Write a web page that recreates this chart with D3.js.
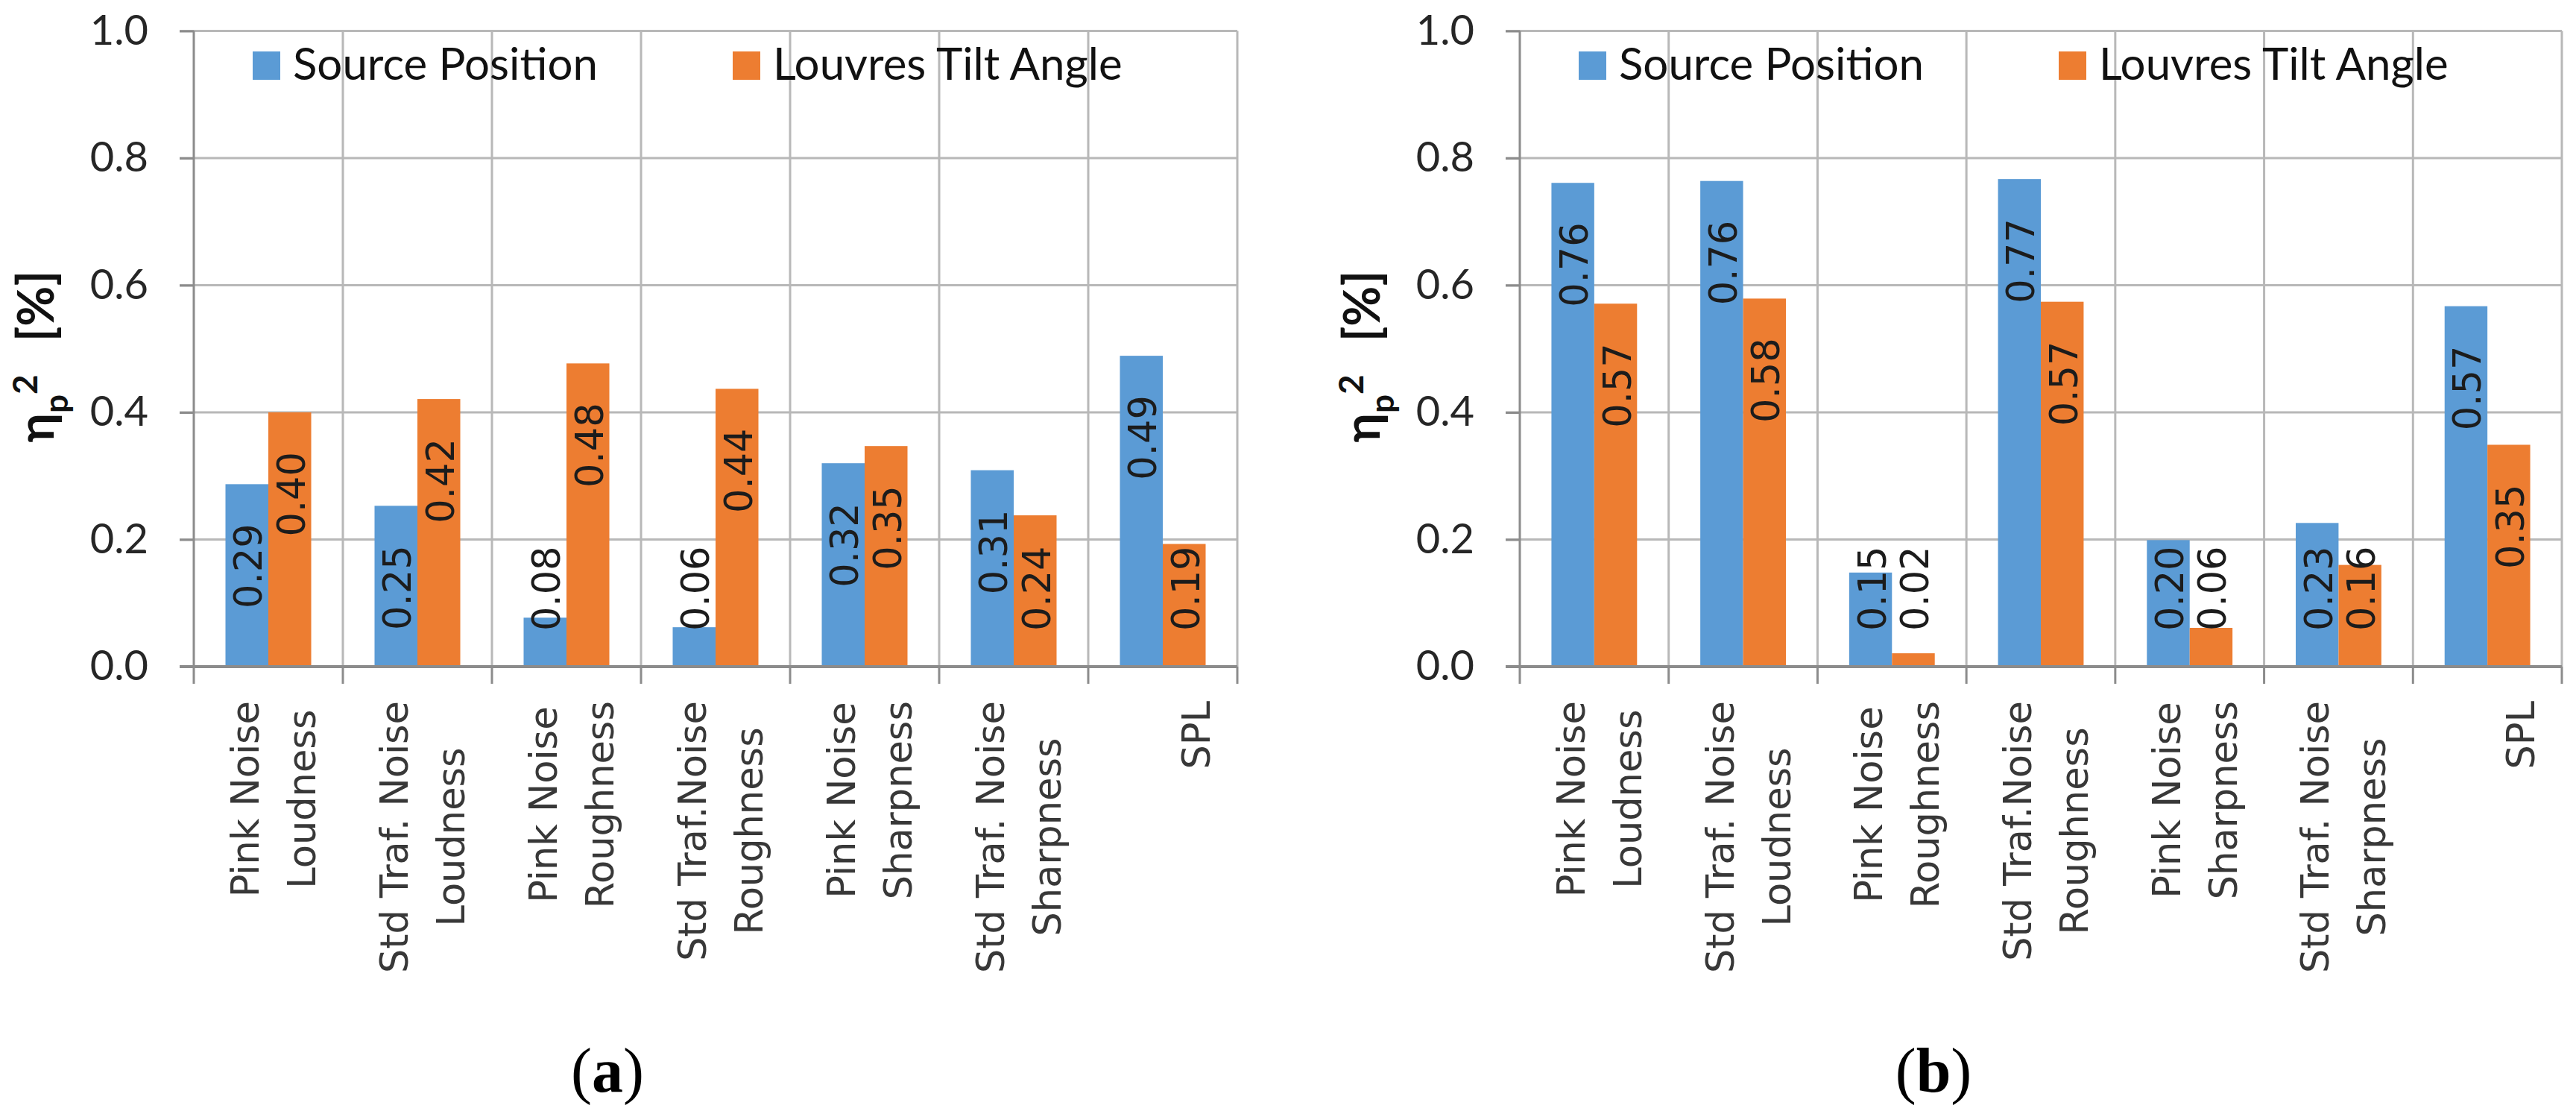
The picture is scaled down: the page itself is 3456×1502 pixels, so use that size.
<!DOCTYPE html>
<html>
<head>
<meta charset="utf-8">
<script src="https://cdn.jsdelivr.net/npm/d3@7"></script>
<style>
  body { margin: 0; background: #fff; }
</style>
</head>
<body>
<div id="chart"></div>
<script>
// categories, two text lines each (first line empty for SPL)
var categories = [
  ["Pink Noise", "Loudness"],
  ["Std Traf. Noise", "Loudness"],
  ["Pink Noise", "Roughness"],
  ["Std Traf.Noise", "Roughness"],
  ["Pink Noise", "Sharpness"],
  ["Std Traf. Noise", "Sharpness"],
  ["", "SPL"]
];
var seriesNames = ["Source Position", "Louvres Tilt Angle"];

// panel (a)
var sourcePositionA = [0.287, 0.253, 0.077, 0.062, 0.32, 0.309, 0.489];
var tiltAngleA      = [0.40, 0.421, 0.477, 0.437, 0.347, 0.238, 0.193];
// panel (b)
var sourcePositionB = [0.761, 0.764, 0.148, 0.767, 0.199, 0.226, 0.567];
var tiltAngleB      = [0.571, 0.579, 0.021, 0.574, 0.061, 0.16, 0.349];

var yTicks = [0, 0.2, 0.4, 0.6, 0.8, 1.0];
var panelLetters = ["a", "b"];

var colors = ["#5B9BD5", "#ED7D31"];
var gridColor = "#B8B8B8";
var axisColor = "#8C8C8C";
var textColor = "#262626";

var width = 3456, height = 1502;

var svg = d3.select("#chart")
  .append("svg")
    .attr("width", width)
    .attr("height", height)
    .style("display", "block");

var panels = [
  {left: 260,  right: 1660, source: sourcePositionA, tilt: tiltAngleA, letter: panelLetters[0]},
  {left: 2039, right: 3437, source: sourcePositionB, tilt: tiltAngleB, letter: panelLetters[1]}
];

panels.forEach(function(p) { drawPanel(p); });

function drawPanel(p) {
  var g = svg.append("g");

  var x = d3.scaleBand()
    .domain(d3.range(categories.length))
    .range([p.left, p.right]);

  var xs = d3.scaleBand()
    .domain(seriesNames)
    .range([0, x.bandwidth()])
    .paddingOuter(0.739);

  var y = d3.scaleLinear()
    .domain([0, 1])
    .range([894, 41.5]);

  // horizontal gridlines (tick stubs to the left included)
  g.append("g").selectAll("line")
    .data(yTicks.filter(function(d) { return d > 0; }))
    .join("line")
      .attr("x1", p.left - 19)
      .attr("x2", p.right)
      .attr("y1", function(d) { return y(d); })
      .attr("y2", function(d) { return y(d); })
      .attr("stroke", gridColor)
      .attr("stroke-width", 3);

  // vertical gridlines at category boundaries
  var bounds = d3.range(categories.length + 1).map(function(i) {
    return i < categories.length ? x(i) : p.right;
  });
  g.append("g").selectAll("line")
    .data(bounds.slice(1))
    .join("line")
      .attr("x1", function(d) { return d; })
      .attr("x2", function(d) { return d; })
      .attr("y1", y(1))
      .attr("y2", y(0))
      .attr("stroke", gridColor)
      .attr("stroke-width", 3);

  // bars
  var rows = categories.map(function(c, i) {
    return [{s: 0, v: p.source[i], i: i}, {s: 1, v: p.tilt[i], i: i}];
  });
  var flat = d3.merge(rows);

  g.append("g").selectAll("rect")
    .data(flat)
    .join("rect")
      .attr("x", function(d) { return x(d.i) + xs(seriesNames[d.s]); })
      .attr("y", function(d) { return y(d.v); })
      .attr("width", xs.bandwidth())
      .attr("height", function(d) { return y(0) - y(d.v); })
      .attr("fill", function(d) { return colors[d.s]; });

  // x axis line and tick marks
  g.append("line")
    .attr("x1", p.left - 19).attr("x2", p.right)
    .attr("y1", y(0)).attr("y2", y(0))
    .attr("stroke", axisColor).attr("stroke-width", 4);
  g.append("g").selectAll("line")
    .data(bounds)
    .join("line")
      .attr("x1", function(d) { return d; })
      .attr("x2", function(d) { return d; })
      .attr("y1", function(d, i) { return i === 0 ? y(1) : y(0); })
      .attr("y2", y(0) + 23)
      .attr("stroke", axisColor)
      .attr("stroke-width", 3);

  // y axis tick labels
  var yAxis = g.append("g")
    .attr("transform", "translate(" + p.left + ",0)")
    .call(d3.axisLeft(y).tickValues(yTicks).tickSize(19).tickPadding(42)
      .tickFormat(d3.format(".1f")));
  yAxis.select(".domain").remove();
  yAxis.selectAll(".tick line").attr("stroke", axisColor).attr("stroke-width", 3);
  yAxis.selectAll(".tick text")
    .attr("fill", textColor)
    .style("font-family", "Lato, 'Open Sans', sans-serif")
    .style("font-size", "56px");

  // value labels, rotated
  g.append("g").selectAll("text")
    .data(flat)
    .join("text")
      .text(function(d) { return d.v.toFixed(2); })
      .attr("text-anchor", "end")
      .attr("fill", "#1c1c1c")
      .style("font-family", "'DejaVu Sans', sans-serif")
      .style("font-size", "51px")
      .attr("transform", function(d) {
        var len = this.getComputedTextLength();
        var cx = x(d.i) + xs(seriesNames[d.s]) + xs.bandwidth() / 2 + 20;
        var yEnd = Math.min(y(d.v) + 53, y(0) - 48 - len);
        return "translate(" + cx + "," + yEnd + ") rotate(-90)";
      });

  // category labels
  categories.forEach(function(lines, i) {
    var cx = x(i) + x.bandwidth() / 2;
    var texts = lines.map(function(t, j) {
      return g.append("text")
        .text(t)
        .attr("text-anchor", "middle")
        .attr("fill", "#383838")
        .style("font-family", "'DejaVu Sans', sans-serif")
        .style("font-size", "51px")
        .datum(j);
    });
    var maxLen = d3.max(texts, function(t) { return t.node().getComputedTextLength(); });
    var cy = y(0) + 46 + maxLen / 2;
    texts.forEach(function(t, j) {
      t.attr("transform", "translate(" + (cx - 13 + j * 76) + "," + cy + ") rotate(-90)");
    });
  });

  // y axis title
  var title = g.append("text")
    .attr("transform", "translate(" + (p.left - 188) + "," + 478 + ") rotate(-90)")
    .attr("text-anchor", "middle")
    .attr("fill", "#111")
    .style("font-family", "Lato, sans-serif")
    .style("font-weight", "bold")
    .style("font-size", "66px");
  title.append("tspan").text("\u03B7");
  title.append("tspan").text("p").style("font-size", "44px").attr("dy", 19);
  title.append("tspan").text("2").style("font-size", "46px").attr("dy", -41);
  title.append("tspan").text("[%]").attr("dy", 22).attr("dx", 44);

  // legend
  var legendX = [79, 723];
  seriesNames.forEach(function(name, s) {
    g.append("rect")
      .attr("x", p.left + legendX[s])
      .attr("y", 69)
      .attr("width", 37)
      .attr("height", 38)
      .attr("fill", colors[s]);
    g.append("text")
      .attr("x", p.left + legendX[s] + 54)
      .attr("y", 107)
      .attr("fill", "#111")
      .style("font-family", "Lato, 'Open Sans', sans-serif")
      .style("font-size", "60px")
      .text(name);
  });

  // panel letter
  var lt = g.append("text")
    .attr("x", p.left + 555)
    .attr("y", 1464)
    .attr("text-anchor", "middle")
    .attr("fill", "#000")
    .style("font-family", "'Liberation Serif', 'Times New Roman', serif")
    .style("font-size", "84px");
  lt.append("tspan").text("(");
  lt.append("tspan").text(p.letter).style("font-weight", "bold");
  lt.append("tspan").text(")");
}
</script>
</body>
</html>
